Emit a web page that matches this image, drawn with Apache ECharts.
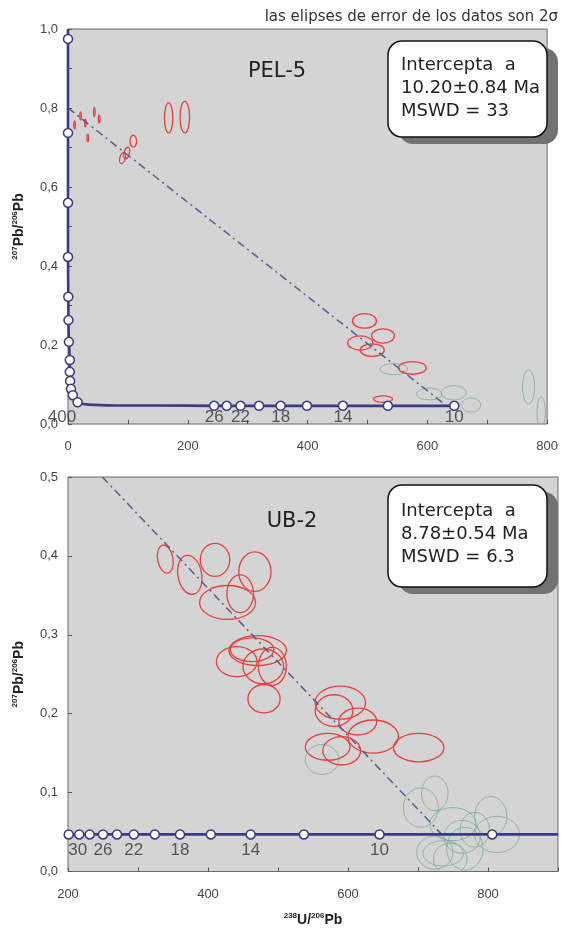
<!DOCTYPE html>
<html><head><meta charset="utf-8">
<script src="https://cdn.jsdelivr.net/npm/echarts@6/dist/echarts.min.js"></script>
<style>html,body{margin:0;padding:0;background:#fff}#c{width:561px;height:928px}</style>
</head><body><div id="c"></div>
<script>
// ---------- DATA ----------
// ellipses: [centre x (238U/206Pb), centre y (207Pb/206Pb), half-width x, half-height y, tilt deg]
const redEllipsesPEL5 = [
  [11, 0.757, 1.3, 0.010, 0], [21, 0.780, 1.3, 0.010, 0], [29, 0.762, 1.3, 0.010, 0],
  [33, 0.724, 1.3, 0.010, 0], [44, 0.790, 1.3, 0.011, 0], [52, 0.772, 1.3, 0.010, 0],
  [91, 0.673, 4.5, 0.014, -15], [98, 0.686, 4.5, 0.015, -15], [109, 0.716, 5.5, 0.015, 0],
  [168, 0.775, 7, 0.038, 0], [195, 0.777, 8, 0.040, 0],
  [495, 0.261, 20, 0.0185, 0], [526, 0.223, 19, 0.018, 0], [488, 0.205, 21, 0.018, 0],
  [508, 0.187, 20, 0.016, 0], [575, 0.142, 23, 0.016, 0], [526, 0.063, 16, 0.008, 0]
];
const greenEllipsesPEL5 = [
  [544, 0.139, 23, 0.014, 0], [603, 0.076, 21, 0.015, 0], [644, 0.079, 21, 0.018, 0],
  [673, 0.048, 16, 0.018, 0], [769, 0.094, 10, 0.043, 0], [790, 0.030, 7, 0.038, 0]
];
const redEllipsesUB2 = [
  [339, 0.396, 11, 0.018, 10], [374, 0.376, 17, 0.025, 10], [410, 0.395, 21, 0.021, 0],
  [467, 0.380, 23, 0.025, 0], [446, 0.352, 19, 0.024, 0], [428, 0.341, 40, 0.0215, 0],
  [471, 0.280, 41, 0.019, 0], [463, 0.281, 31, 0.015, 0], [441, 0.266, 29, 0.019, 0],
  [479, 0.260, 29, 0.022, 0], [492, 0.260, 20, 0.024, 0], [480, 0.219, 23, 0.018, 0],
  [589, 0.214, 36, 0.021, 0], [580, 0.204, 27, 0.020, 0], [614, 0.190, 27, 0.017, 0],
  [636, 0.171, 36, 0.021, 0], [701, 0.157, 36, 0.018, 0], [571, 0.158, 32, 0.017, 0],
  [591, 0.153, 27, 0.018, 0]
];
const greenEllipsesUB2 = [
  [563, 0.142, 24, 0.019, 0], [724, 0.099, 19, 0.022, 0], [704, 0.081, 25, 0.025, 0],
  [804, 0.070, 23, 0.025, 0], [813, 0.047, 32, 0.023, 0], [750, 0.060, 33, 0.021, 0],
  [763, 0.044, 26, 0.021, 0], [724, 0.024, 26, 0.021, 0], [736, 0.023, 29, 0.016, 0],
  [746, 0.016, 24, 0.020, 0], [767, 0.029, 26, 0.027, 0], [781, 0.053, 21, 0.022, 0]
];
// concordia curve (Tera-Wasserburg) points and age markers
const concordiaCurvePEL5 = [
  [0, 1.0], [0, 0.975], [0, 0.737], [0, 0.56], [0, 0.423], [0.5, 0.322], [0.8, 0.263],
  [1.5, 0.208], [3, 0.162], [3, 0.132], [3.5, 0.109], [5, 0.089], [8, 0.073], [16, 0.055],
  [35, 0.049], [80, 0.047], [150, 0.047], [244, 0.046], [645, 0.046]
];
const concordiaMarkersPEL5 = [
  [0, 0.975], [0, 0.737], [0, 0.56], [0, 0.423], [0.5, 0.322], [0.8, 0.263], [1.5, 0.208],
  [3, 0.162], [3, 0.132], [3.5, 0.109], [5, 0.089], [8, 0.073], [16, 0.055],
  [244, 0.046], [265, 0.046], [288, 0.046], [319, 0.046], [355, 0.046], [399, 0.046],
  [459, 0.046], [534, 0.046], [645, 0.046]
];
const ageLabelsPEL5 = ['400', '26', '22', '18', '14', '10'];
const ageLabelXPEL5 = [-10, 244, 288, 355, 459, 645];
const ageLabelYPEL5 = 0.018;

const concordiaCurveUB2 = [[200, 0.047], [900, 0.047]];
const concordiaMarkerXUB2 = [201, 216, 231, 250, 270, 294, 324, 360, 404, 461, 537, 645, 806];
const concordiaYUB2 = 0.047;
const ageLabelsUB2 = ['30', '26', '22', '18', '14', '10'];
const ageLabelXUB2 = [214, 250, 294, 360, 461, 645];
const ageLabelYUB2 = 0.027;

// discordia (regression) lines
const discordiaPEL5 = [[0, 0.80], [632, 0.046]];
const discordiaUB2 = [[249, 0.50], [734, 0.047]];

// axis ticks
const xTicksPEL5 = [0, 200, 400, 600, 800];
const yTicksPEL5 = ['0,0', '0,2', '0,4', '0,6', '0,8', '1,0'];
const xTicksUB2 = [200, 400, 600, 800];
const yTicksUB2 = ['0,0', '0,1', '0,2', '0,3', '0,4', '0,5'];

// ---------- CHART ----------
const NAVY = '#3b3a86';
const chart = echarts.init(document.getElementById('c'));

function ellipseSeries(data, xi, color, lw, z) {
  return {
    type: 'custom', xAxisIndex: xi, yAxisIndex: xi, clip: true, z: z, silent: true,
    data: data,
    renderItem: function (params, api) {
      const c = api.coord([api.value(0), api.value(1)]);
      const s = api.size([api.value(2), api.value(3)]);
      return {
        type: 'ellipse', x: c[0], y: c[1], rotation: api.value(4) * Math.PI / 180,
        shape: { cx: 0, cy: 0, rx: s[0], ry: s[1] },
        style: { fill: 'none', stroke: color, lineWidth: lw }
      };
    }
  };
}
const rich = {
  b: { fontSize: 14, fontWeight: 'bold', fontFamily: 'Liberation Sans', color: '#222', lineHeight: 17 },
  sup: { fontSize: 8, fontWeight: 'bold', fontFamily: 'Liberation Sans', color: '#222', lineHeight: 17, verticalAlign: 'top' }
};
function xAxisCfg(gi, min, max, ticks, name) {
  return {
    gridIndex: gi, type: 'value', min: min, max: max, interval: 100,
    axisLine: { show: false }, splitLine: { show: false },
    axisTick: { show: true, inside: true, length: 4, lineStyle: { color: '#555' } },
    axisLabel: { margin: 16, fontSize: 13, color: '#444', fontFamily: 'Liberation Sans',
      formatter: v => ticks.indexOf(v) >= 0 ? String(v) : '' },
    name: name || '', nameLocation: 'middle', nameGap: 40,
    nameTextStyle: { rich: rich }
  };
}
function yAxisCfg(gi, max, labels, step) {
  return {
    gridIndex: gi, type: 'value', min: 0, max: max, interval: 0.1,
    axisLine: { show: false }, splitLine: { show: false },
    axisTick: { show: true, inside: true, length: 4, lineStyle: { color: '#555' } },
    axisLabel: { margin: 10, fontSize: 13, color: '#444', fontFamily: 'Liberation Sans',
      formatter: v => { const k = Math.round(v * 10); return k % step === 0 ? labels[k / step] : ''; } },
    name: '{sup|207}{b|Pb/}{sup|206}{b|Pb}', nameLocation: 'middle', nameGap: 40, nameRotate: 90,
    nameTextStyle: { rich: rich }
  };
}
function labelSeries(xi, texts, xs, y) {
  return {
    type: 'scatter', xAxisIndex: xi, yAxisIndex: xi, symbolSize: 0, clip: false, silent: true, z: 9,
    data: texts.map((t, i) => ({ value: [xs[i], y], name: t })),
    label: { show: true, position: 'inside', formatter: p => p.name, fontSize: 17,
      color: '#333', fontFamily: 'Liberation Sans' }
  };
}
function markerSeries(xi, data) {
  return {
    type: 'scatter', xAxisIndex: xi, yAxisIndex: xi, symbol: 'circle', symbolSize: 9, clip: false,
    silent: true, z: 8, data: data,
    itemStyle: { color: '#ffffff', borderColor: NAVY, borderWidth: 1.5, opacity: 1 }
  };
}
function lineSeries(xi, data, style, z, smooth) {
  return {
    type: 'line', xAxisIndex: xi, yAxisIndex: xi, data: data, symbol: 'none', silent: true,
    smooth: smooth || false, z: z, lineStyle: style, clip: true
  };
}

const option = {
  animation: false,
  backgroundColor: '#ffffff',
  grid: [
    { left: 68, top: 29, width: 491, height: 395, show: true, backgroundColor: '#d4d4d4', borderColor: '#6a6a6a', borderWidth: 1 },
    { left: 68, top: 477, width: 491, height: 395, show: true, backgroundColor: '#d4d4d4', borderColor: '#6a6a6a', borderWidth: 1 }
  ],
  xAxis: [
    xAxisCfg(0, 0, 800, xTicksPEL5, ''),
    xAxisCfg(1, 200, 900, xTicksUB2, '{sup|238}{b|U/}{sup|206}{b|Pb}')
  ],
  yAxis: [
    yAxisCfg(0, 1.0, yTicksPEL5, 2),
    yAxisCfg(1, 0.5, yTicksUB2, 1)
  ],
  series: [
    ellipseSeries(greenEllipsesPEL5, 0, 'rgba(130,175,150,0.85)', 1, 2),
    ellipseSeries(redEllipsesPEL5, 0, '#e8403f', 1.3, 3),
    lineSeries(0, discordiaPEL5, { color: '#5a5a96', width: 1.5, type: [8, 4, 2, 4] }, 5),
    lineSeries(0, concordiaCurvePEL5, { color: NAVY, width: 2.6 }, 6, 0.3),
    markerSeries(0, concordiaMarkersPEL5),
    labelSeries(0, ageLabelsPEL5, ageLabelXPEL5, ageLabelYPEL5),

    ellipseSeries(greenEllipsesUB2, 1, 'rgba(130,175,150,0.85)', 1, 2),
    ellipseSeries(redEllipsesUB2, 1, '#e8403f', 1.3, 3),
    lineSeries(1, discordiaUB2, { color: '#5a5a96', width: 1.5, type: [8, 4, 2, 4] }, 5),
    lineSeries(1, concordiaCurveUB2, { color: NAVY, width: 2.6 }, 6),
    markerSeries(1, concordiaMarkerXUB2.map(x => [x, concordiaYUB2])),
    labelSeries(1, ageLabelsUB2, ageLabelXUB2, ageLabelYUB2)
  ],
  graphic: [
    { type: 'text', right: 3, top: 10, z: 10,
      style: { text: 'las elipses de error de los datos son 2σ', font: '15px "DejaVu Sans"', fill: '#333' } },
    // PEL-5 box
    { type: 'rect', z: 10, shape: { x: 399, y: 48, width: 159, height: 96, r: 14 }, style: { fill: '#727272' } },
    { type: 'rect', z: 11, shape: { x: 388, y: 41, width: 159, height: 96, r: 14 }, style: { fill: '#ffffff', stroke: '#111', lineWidth: 1.5 } },
    { type: 'text', z: 12, x: 401, y: 54,
      style: { text: 'Intercepta  a\n10.20±0.84 Ma\nMSWD = 33', font: '18px "DejaVu Sans"', fill: '#222', lineHeight: 23 } },
    { type: 'text', z: 12, x: 277, y: 72,
      style: { text: 'PEL-5', font: '21px "DejaVu Sans"', fill: '#222', align: 'center', verticalAlign: 'middle' } },
    // UB-2 box
    { type: 'rect', z: 10, shape: { x: 399, y: 492, width: 159, height: 102, r: 14 }, style: { fill: '#727272' } },
    { type: 'rect', z: 11, shape: { x: 388, y: 485, width: 159, height: 102, r: 14 }, style: { fill: '#ffffff', stroke: '#111', lineWidth: 1.5 } },
    { type: 'text', z: 12, x: 401, y: 500,
      style: { text: 'Intercepta  a\n8.78±0.54 Ma\nMSWD = 6.3', font: '18px "DejaVu Sans"', fill: '#222', lineHeight: 23 } },
    { type: 'text', z: 12, x: 292, y: 522,
      style: { text: 'UB-2', font: '21px "DejaVu Sans"', fill: '#222', align: 'center', verticalAlign: 'middle' } }
  ]
};
chart.setOption(option);
</script></body></html>
